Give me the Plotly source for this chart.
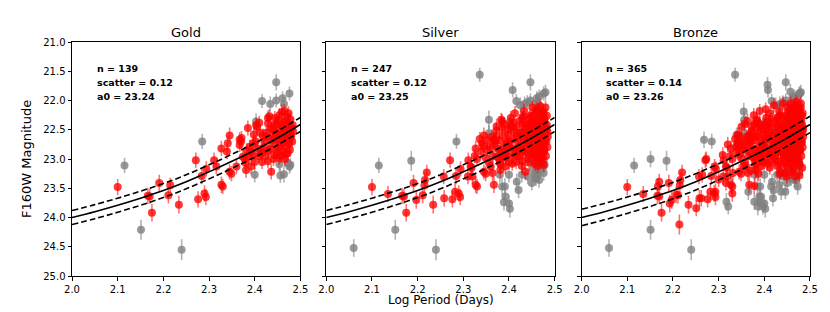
import plotly.graph_objects as go

# ---------------- data (log period, F160W magnitude, error) ----------------
panel_names = ["Gold", "Silver", "Bronze"]
panel_n = [139, 247, 365]
panel_scatter = [0.12, 0.12, 0.14]
panel_a0 = [23.24, 23.25, 23.26]

x_ticks = [2.0, 2.1, 2.2, 2.3, 2.4, 2.5]
y_ticks = [21.0, 21.5, 22.0, 22.5, 23.0, 23.5, 24.0, 24.5, 25.0]

# fitted relation
curve_logp = [2.00, 2.05, 2.10, 2.15, 2.20, 2.25, 2.30, 2.35, 2.40, 2.45, 2.50]
curve_mag = [24.00, 23.90, 23.79, 23.67, 23.54, 23.39, 23.22, 23.04, 22.85, 22.64, 22.41]

gold_red = [
    (2.100, 23.48, 0.14), (2.166, 23.63, 0.14), (2.170, 23.64, 0.13), (2.175, 23.92, 0.15),
    (2.191, 23.41, 0.14), (2.211, 23.62, 0.14), (2.215, 23.45, 0.13), (2.234, 23.78, 0.15),
    (2.271, 23.02, 0.13), (2.276, 23.69, 0.14), (2.284, 23.29, 0.14), (2.290, 23.59, 0.14),
    (2.293, 23.65, 0.14), (2.294, 23.17, 0.13), (2.311, 23.02, 0.13), (2.316, 23.13, 0.13),
    (2.327, 22.82, 0.13), (2.327, 23.44, 0.14), (2.330, 23.47, 0.13), (2.339, 22.87, 0.13),
    (2.341, 22.73, 0.13), (2.345, 22.60, 0.14), (2.345, 23.22, 0.13), (2.349, 23.25, 0.13),
    (2.360, 23.13, 0.13), (2.367, 22.67, 0.13), (2.370, 22.70, 0.12), (2.374, 22.96, 0.13),
    (2.378, 23.00, 0.12), (2.381, 23.19, 0.13), (2.385, 22.47, 0.13), (2.392, 23.13, 0.13),
    (2.396, 22.73, 0.12), (2.371, 22.64, 0.12), (2.367, 22.76, 0.12), (2.380, 23.07, 0.13),
    (2.389, 22.79, 0.12), (2.396, 22.93, 0.12), (2.403, 22.42, 0.13), (2.405, 22.45, 0.12),
    (2.409, 22.95, 0.12), (2.414, 22.87, 0.12), (2.415, 22.90, 0.13), (2.418, 22.60, 0.12),
    (2.421, 22.70, 0.12), (2.425, 22.55, 0.12), (2.429, 22.30, 0.13), (2.429, 23.04, 0.12),
    (2.429, 22.39, 0.12), (2.432, 22.27, 0.12), (2.434, 22.82, 0.12), (2.436, 23.22, 0.13),
    (2.438, 22.50, 0.12), (2.440, 22.66, 0.12), (2.443, 22.42, 0.12), (2.443, 22.93, 0.12),
    (2.445, 22.75, 0.12), (2.447, 22.58, 0.12), (2.449, 22.88, 0.12), (2.450, 22.67, 0.12),
    (2.452, 22.34, 0.12), (2.453, 22.98, 0.12), (2.455, 22.51, 0.12), (2.456, 22.78, 0.12),
    (2.458, 22.62, 0.12), (2.459, 22.20, 0.13), (2.460, 22.44, 0.12), (2.461, 22.47, 0.12),
    (2.462, 22.87, 0.12), (2.463, 22.72, 0.12), (2.465, 22.18, 0.12), (2.465, 22.56, 0.12),
    (2.466, 23.00, 0.12), (2.467, 22.35, 0.12), (2.468, 22.66, 0.12), (2.469, 22.79, 0.12),
    (2.470, 22.50, 0.12), (2.471, 22.28, 0.12), (2.472, 22.90, 0.12), (2.473, 22.60, 0.12),
    (2.474, 22.40, 0.12), (2.475, 22.73, 0.12), (2.476, 22.55, 0.12), (2.477, 22.84, 0.12),
    (2.478, 22.32, 0.12), (2.479, 22.63, 0.12), (2.480, 22.59, 0.12), (2.481, 22.47, 0.12),
    (2.482, 22.70, 0.12), (2.483, 22.42, 0.12), (2.484, 22.53, 0.12), (2.412, 22.55, 0.12),
    (2.416, 23.05, 0.12), (2.420, 22.80, 0.12), (2.424, 22.95, 0.12), (2.427, 22.62, 0.12),
    (2.431, 22.85, 0.12), (2.435, 22.48, 0.12), (2.437, 22.68, 0.12), (2.441, 23.00, 0.12),
    (2.444, 22.30, 0.12), (2.446, 22.55, 0.12), (2.448, 22.40, 0.12), (2.451, 22.82, 0.12),
    (2.454, 22.25, 0.12), (2.457, 22.95, 0.12), (2.459, 22.70, 0.12), (2.463, 22.38, 0.12),
    (2.467, 22.92, 0.12), (2.471, 22.65, 0.12), (2.474, 22.22, 0.12), (2.477, 22.45, 0.12),
    (2.402, 22.70, 0.12), (2.398, 22.58, 0.12), (2.406, 22.82, 0.12), (2.410, 22.38, 0.12),
    (2.392, 22.88, 0.12), (2.387, 22.95, 0.12), (2.400, 23.05, 0.12), (2.383, 22.85, 0.12),
]

gold_gray = [
    (2.115, 23.11, 0.13), (2.151, 24.21, 0.17), (2.240, 24.55, 0.18), (2.285, 22.70, 0.13),
    (2.400, 23.27, 0.13), (2.403, 22.36, 0.14), (2.416, 22.01, 0.12), (2.434, 22.06, 0.13),
    (2.447, 21.69, 0.14), (2.447, 22.00, 0.12), (2.461, 21.96, 0.12), (2.464, 22.06, 0.12),
    (2.476, 21.88, 0.12), (2.454, 23.09, 0.13), (2.472, 23.07, 0.12), (2.476, 23.13, 0.12),
    (2.464, 23.26, 0.14), (2.456, 23.28, 0.13), (2.478, 23.10, 0.12),
]

silver_extra_red = [
    (2.135, 23.60, 0.14), (2.197, 23.70, 0.15), (2.216, 23.36, 0.14), (2.220, 23.23, 0.13),
    (2.258, 23.67, 0.14), (2.257, 23.30, 0.13), (2.282, 23.56, 0.14), (2.320, 23.30, 0.13),
    (2.353, 22.84, 0.13), (2.357, 23.07, 0.13), (2.364, 23.24, 0.13), (2.373, 22.44, 0.13),
    (2.367, 23.44, 0.14), (2.385, 22.36, 0.13),
    (2.372, 22.52, 0.12), (2.376, 22.83, 0.12), (2.379, 22.68, 0.12), (2.382, 23.10, 0.12),
    (2.386, 22.60, 0.12), (2.390, 22.40, 0.12), (2.393, 22.98, 0.12), (2.397, 22.50, 0.12),
    (2.401, 22.80, 0.12), (2.404, 22.30, 0.12), (2.407, 23.08, 0.12), (2.411, 22.66, 0.12),
    (2.413, 22.22, 0.12), (2.417, 22.47, 0.12), (2.419, 22.95, 0.12), (2.423, 22.35, 0.12),
    (2.426, 22.78, 0.12), (2.428, 23.12, 0.12), (2.430, 22.55, 0.12), (2.433, 22.18, 0.12),
    (2.436, 22.88, 0.12), (2.439, 22.40, 0.12), (2.442, 22.62, 0.12), (2.444, 23.06, 0.12),
    (2.447, 22.26, 0.12), (2.449, 22.73, 0.12), (2.451, 22.12, 0.12), (2.453, 22.50, 0.12),
    (2.455, 22.92, 0.12), (2.457, 22.38, 0.12), (2.459, 22.84, 0.12), (2.461, 22.15, 0.12),
    (2.462, 22.60, 0.12), (2.464, 22.96, 0.12), (2.466, 22.28, 0.12), (2.468, 22.75, 0.12),
    (2.469, 22.10, 0.12), (2.471, 22.45, 0.12), (2.472, 22.98, 0.12), (2.474, 22.58, 0.12),
    (2.475, 22.20, 0.12), (2.477, 22.86, 0.12), (2.478, 22.38, 0.12), (2.479, 22.68, 0.12),
    (2.480, 22.12, 0.12), (2.481, 22.95, 0.12), (2.482, 22.50, 0.12), (2.483, 22.26, 0.12),
    (2.484, 22.80, 0.12), (2.485, 22.62, 0.12), (2.476, 23.10, 0.12), (2.470, 23.05, 0.12),
    (2.463, 23.12, 0.12), (2.457, 23.08, 0.12), (2.446, 22.48, 0.12), (2.438, 22.70, 0.12),
    (2.421, 22.85, 0.12), (2.409, 22.45, 0.12), (2.395, 22.70, 0.12), (2.388, 22.90, 0.12),
    (2.383, 22.33, 0.12), (2.365, 22.95, 0.12), (2.362, 22.62, 0.12), (2.358, 22.80, 0.12),
    (2.352, 22.68, 0.12), (2.349, 22.98, 0.12), (2.344, 22.78, 0.12), (2.336, 22.66, 0.12),
    (2.330, 23.00, 0.12), (2.325, 22.95, 0.12), (2.318, 23.15, 0.12), (2.310, 23.30, 0.13),
]

silver_extra_gray = [
    (2.060, 24.52, 0.15), (2.186, 23.03, 0.17), (2.336, 21.56, 0.12), (2.356, 22.33, 0.16),
    (2.356, 22.56, 0.14), (2.367, 22.67, 0.13), (2.408, 21.82, 0.13), (2.425, 22.08, 0.13),
    (2.440, 22.03, 0.12), (2.459, 22.05, 0.12), (2.466, 21.93, 0.12), (2.480, 21.86, 0.13),
    (2.380, 23.27, 0.13), (2.385, 23.47, 0.14), (2.391, 23.47, 0.14), (2.392, 23.64, 0.14),
    (2.389, 23.74, 0.14), (2.400, 23.76, 0.15), (2.402, 23.85, 0.15), (2.417, 23.39, 0.14),
    (2.421, 23.53, 0.14), (2.428, 23.27, 0.13), (2.441, 23.30, 0.13), (2.450, 23.41, 0.13),
    (2.452, 23.19, 0.13), (2.459, 23.33, 0.13), (2.466, 23.19, 0.12), (2.466, 23.36, 0.13),
    (2.473, 23.10, 0.12), (2.476, 23.24, 0.13), (2.476, 23.02, 0.12),
]

bronze_extra_red = [
    (2.167, 23.47, 0.14), (2.170, 23.39, 0.14), (2.193, 23.76, 0.15), (2.207, 23.61, 0.14),
    (2.214, 24.12, 0.17), (2.251, 23.84, 0.14), (2.262, 23.67, 0.14), (2.264, 23.27, 0.13),
    (2.273, 23.00, 0.13), (2.291, 23.13, 0.13), (2.293, 23.56, 0.14), (2.309, 22.93, 0.13),
    (2.316, 23.41, 0.13), (2.330, 23.59, 0.14), (2.331, 23.24, 0.13), (2.338, 22.79, 0.13),
    (2.378, 23.46, 0.14), (2.320, 22.75, 0.13), (2.300, 23.35, 0.13),
    (2.342, 22.58, 0.12), (2.346, 22.92, 0.12), (2.350, 22.45, 0.12), (2.355, 23.12, 0.12),
    (2.360, 22.70, 0.12), (2.363, 22.35, 0.12), (2.368, 22.88, 0.12), (2.371, 23.20, 0.12),
    (2.374, 22.55, 0.12), (2.377, 22.25, 0.12), (2.381, 22.97, 0.12), (2.384, 22.62, 0.12),
    (2.387, 23.25, 0.12), (2.390, 22.18, 0.12), (2.394, 22.80, 0.12), (2.397, 23.05, 0.12),
    (2.400, 22.42, 0.12), (2.403, 22.15, 0.12), (2.406, 22.92, 0.12), (2.409, 22.58, 0.12),
    (2.412, 23.15, 0.12), (2.415, 22.32, 0.12), (2.418, 22.75, 0.12), (2.421, 22.08, 0.12),
    (2.424, 23.02, 0.12), (2.427, 22.45, 0.12), (2.430, 22.88, 0.12), (2.433, 23.25, 0.12),
    (2.435, 22.25, 0.12), (2.438, 22.62, 0.12), (2.441, 22.05, 0.12), (2.443, 22.95, 0.12),
    (2.444, 23.24, 0.12), (2.446, 22.38, 0.12), (2.448, 22.78, 0.12), (2.450, 23.12, 0.12),
    (2.452, 22.18, 0.12), (2.454, 22.55, 0.12), (2.456, 23.00, 0.12), (2.458, 22.05, 0.12),
    (2.460, 22.32, 0.12), (2.462, 22.70, 0.12), (2.464, 23.18, 0.12), (2.466, 22.12, 0.12),
    (2.467, 22.48, 0.12), (2.469, 22.90, 0.12), (2.470, 22.02, 0.12), (2.472, 22.25, 0.12),
    (2.473, 22.68, 0.12), (2.475, 23.05, 0.12), (2.476, 22.15, 0.12), (2.478, 22.55, 0.12),
    (2.479, 22.85, 0.12), (2.480, 22.05, 0.12), (2.481, 22.35, 0.12), (2.482, 22.72, 0.12),
    (2.483, 23.15, 0.12), (2.484, 22.22, 0.12), (2.485, 22.48, 0.12), (2.477, 23.28, 0.12),
    (2.468, 23.30, 0.12), (2.459, 23.22, 0.12), (2.449, 23.30, 0.12), (2.437, 23.10, 0.12),
    (2.425, 22.68, 0.12), (2.413, 22.88, 0.12), (2.402, 22.65, 0.12), (2.392, 22.48, 0.12),
    (2.379, 22.40, 0.12), (2.366, 22.60, 0.12), (2.358, 22.40, 0.12), (2.352, 22.80, 0.12),
    (2.345, 22.70, 0.12),
]

bronze_extra_gray = [
    (2.151, 23.00, 0.14), (2.268, 22.67, 0.14), (2.339, 22.59, 0.13), (2.355, 22.19, 0.15),
    (2.407, 21.73, 0.13), (2.457, 21.85, 0.13), (2.365, 23.56, 0.14), (2.317, 23.73, 0.15),
    (2.321, 23.81, 0.14), (2.378, 23.73, 0.14), (2.389, 23.64, 0.14), (2.386, 23.81, 0.15),
    (2.397, 23.81, 0.14), (2.415, 23.47, 0.13), (2.433, 23.44, 0.13), (2.437, 23.56, 0.14),
    (2.419, 23.67, 0.14), (2.446, 23.56, 0.13), (2.469, 23.36, 0.13), (2.473, 23.47, 0.14),
    (2.451, 23.16, 0.12), (2.478, 21.88, 0.12), (2.470, 22.00, 0.12),
]

# cumulative quality samples
panel_red = [gold_red,
             gold_red + silver_extra_red,
             gold_red + silver_extra_red + bronze_extra_red]
panel_gray = [gold_gray,
              gold_gray + silver_extra_gray,
              gold_gray + silver_extra_gray + bronze_extra_gray]

# ---------------- figure ----------------
FONT = "DejaVu Sans"
fig = go.Figure()

domains = [[0.0, 0.3095], [0.3446, 0.654], [0.6905, 1.0]]


def add_points(pts, idx, marker_rgba, err_rgba):
    xs = [p[0] for p in pts]
    ys = [p[1] for p in pts]
    es = [p[2] for p in pts]
    ax = "" if idx == 0 else str(idx + 1)
    fig.add_trace(go.Scatter(
        x=xs, y=ys, mode="markers", xaxis="x" + ax, yaxis="y" + ax,
        marker=dict(size=8, color=marker_rgba, line=dict(width=0)),
        error_y=dict(type="data", array=es, visible=True, thickness=1.6,
                     width=0, color=err_rgba),
        showlegend=False, hoverinfo="skip"))


for i in range(3):
    ax = "" if i == 0 else str(i + 1)
    add_points(panel_gray[i], i, "rgba(128,128,128,0.8)", "rgba(128,128,128,0.6)")
    add_points(panel_red[i], i, "rgba(255,0,0,0.78)", "rgba(255,0,0,0.55)")
    s = panel_scatter[i]
    fig.add_trace(go.Scatter(x=curve_logp, y=curve_mag, mode="lines",
                             line=dict(color="black", width=1.6, shape="spline"),
                             xaxis="x" + ax, yaxis="y" + ax, showlegend=False,
                             hoverinfo="skip"))
    for sign in (-1, 1):
        fig.add_trace(go.Scatter(x=curve_logp, y=[m + sign * s for m in curve_mag],
                                 mode="lines",
                                 line=dict(color="black", width=1.6, dash="6px,3px",
                                           shape="spline"),
                                 xaxis="x" + ax, yaxis="y" + ax, showlegend=False,
                                 hoverinfo="skip"))

axis_common = dict(showline=True, linecolor="black", linewidth=1, mirror=True,
                   ticks="outside", ticklen=3.5, tickwidth=1, tickcolor="black",
                   showgrid=False, zeroline=False,
                   tickfont=dict(family=FONT, size=10, color="black"))

# the page body adds an 8px offset, so the figure is sized 8px smaller each way
layout = dict(
    width=822, height=304,
    margin=dict(l=64, r=18, t=34, b=36),
    paper_bgcolor="white", plot_bgcolor="white",
    font=dict(family=FONT, color="black"),
    showlegend=False,
)

for i in range(3):
    ax = "" if i == 0 else str(i + 1)
    layout["xaxis" + ax] = dict(axis_common, domain=domains[i], range=[2.0, 2.5],
                                tickvals=x_ticks, ticktext=[f"{v:.1f}" for v in x_ticks],
                                anchor="y" + ax)
    layout["yaxis" + ax] = dict(axis_common, range=[25.0, 21.0], tickvals=y_ticks,
                                ticktext=[f"{v:.1f}" for v in y_ticks] if i == 0 else [""] * len(y_ticks),
                                anchor="x" + ax)

annotations = []
for i in range(3):
    ax = "" if i == 0 else str(i + 1)
    mid = (domains[i][0] + domains[i][1]) / 2
    annotations.append(dict(text=panel_names[i], xref="paper", yref="paper",
                            x=mid, y=1.0, yshift=10, xanchor="center", yanchor="middle",
                            showarrow=False, font=dict(family=FONT, size=13, color="black")))
    lines = [f"<b>n = {panel_n[i]}</b>",
             f"<b>scatter = {panel_scatter[i]:.2f}</b>",
             f"<b>a0 = {panel_a0[i]:.2f}</b>"]
    for k, (t, yv) in enumerate(zip(lines, [21.445, 21.685, 21.94])):
        annotations.append(dict(text=t, xref="x" + ax, yref="y" + ax, x=2.05, y=yv,
                                xanchor="left", yanchor="middle", showarrow=False,
                                font=dict(family=FONT, size=9.5, color="black")))

annotations.append(dict(text="F160W Magnitude", xref="paper", yref="paper",
                        x=0, xshift=-46, y=0.5, textangle=-90, xanchor="center",
                        yanchor="middle", showarrow=False,
                        font=dict(family=FONT, size=13, color="black")))
annotations.append(dict(text="Log Period (Days)", xref="paper", yref="paper",
                        x=0.5, y=0, yshift=-24, xanchor="center", yanchor="middle",
                        showarrow=False, font=dict(family=FONT, size=12, color="black")))
layout["annotations"] = annotations

fig.update_layout(**layout)
fig.write_html("out.html")
